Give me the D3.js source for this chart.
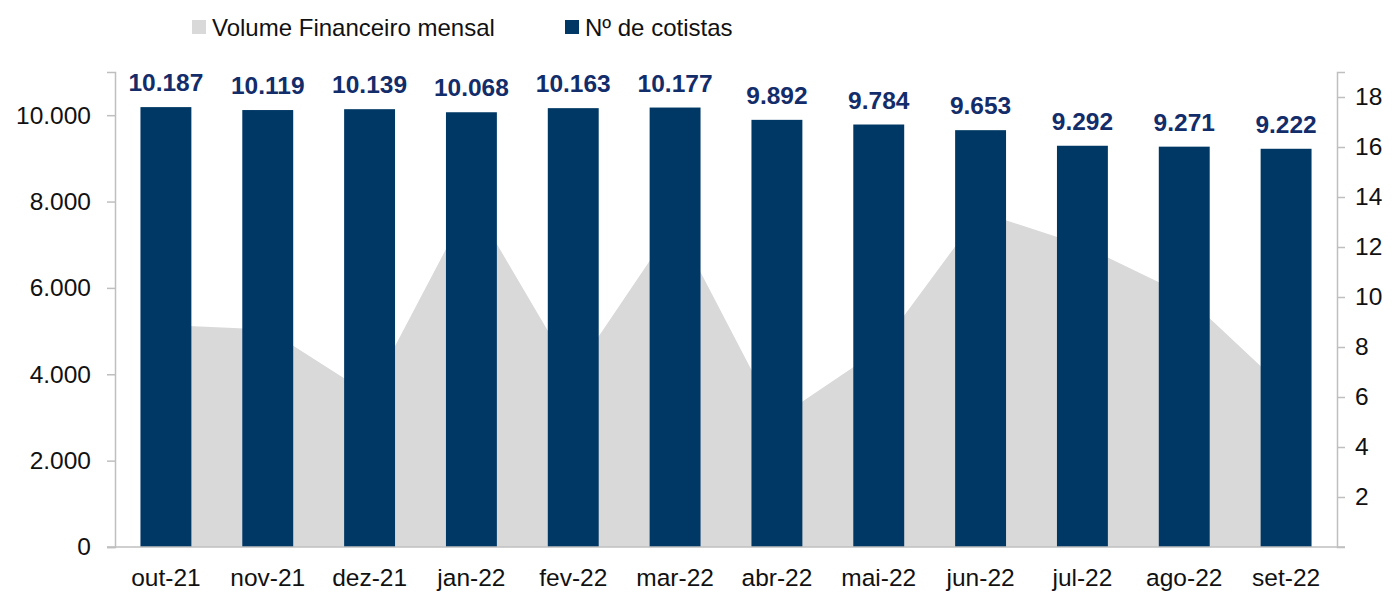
<!DOCTYPE html>
<html>
<head>
<meta charset="utf-8">
<script src="https://cdn.jsdelivr.net/npm/d3@7"></script>
<style>
  body { margin: 0; background: #fff; }
  text { font-family: "Liberation Sans", Arial, sans-serif; }
</style>
</head>
<body>
<script>
const months = ["out-21","nov-21","dez-21","jan-22","fev-22","mar-22","abr-22","mai-22","jun-22","jul-22","ago-22","set-22"];
const cotistas = [10187,10119,10139,10068,10163,10177,9892,9784,9653,9292,9271,9222];
const volume = [8.88,8.7,6.1,13.85,6.92,12.95,5.13,7.88,13.4,12.07,10.1,6.28];
const leftTicks = [0,2000,4000,6000,8000,10000];
const rightTicks = [2,4,6,8,10,12,14,16,18];

const width = 1395, height = 595;
const margin = {top: 72, right: 58, bottom: 48, left: 115};

const svg = d3.select("body").append("svg")
  .attr("width", width)
  .attr("height", height);

const br = d3.formatLocale({decimal: ",", thousands: ".", grouping: [3], currency: ["R$", ""]});
const fmt = br.format(",d");

const x = d3.scaleBand()
  .domain(months)
  .range([margin.left, width - margin.right])
  .paddingInner(0.5)
  .paddingOuter(0.25);

const yL = d3.scaleLinear().domain([0, 11000]).range([height - margin.bottom, margin.top]);
const yR = d3.scaleLinear().domain([0, 19]).range([height - margin.bottom, margin.top]);

const cx = d => x(d) + x.bandwidth() / 2;

// area behind bars
const area = d3.area()
  .x((d, i) => cx(months[i]))
  .y0(yR(0))
  .y1(d => yR(d));

svg.append("path")
  .datum(volume)
  .attr("d", area)
  .attr("fill", "#d9d9d9");

// bars
svg.selectAll("rect.bar")
  .data(cotistas)
  .enter()
  .append("rect")
  .attr("class", "bar")
  .attr("x", (d, i) => x(months[i]))
  .attr("y", d => yL(d))
  .attr("width", x.bandwidth())
  .attr("height", d => yL(0) - yL(d))
  .attr("fill", "#003865");

svg.selectAll("text.val")
  .data(cotistas)
  .enter()
  .append("text")
  .attr("class", "val")
  .attr("x", (d, i) => cx(months[i]))
  .attr("y", d => yL(d) - 16)
  .attr("text-anchor", "middle")
  .attr("font-size", 24.5)
  .attr("font-weight", "bold")
  .attr("fill", "#132c6a")
  .text(d => fmt(d));

// axes
const axisColor = "#bfbfbf";

const gL = svg.append("g")
  .attr("transform", `translate(${margin.left},0)`)
  .call(d3.axisLeft(yL).tickValues(leftTicks).tickFormat(fmt).tickSize(8).tickPadding(16));

const gR = svg.append("g")
  .attr("transform", `translate(${width - margin.right},0)`)
  .call(d3.axisRight(yR).tickValues(rightTicks).tickSize(8).tickPadding(10));

const gB = svg.append("g")
  .attr("transform", `translate(0,${yL(0)})`)
  .call(d3.axisBottom(x).tickSize(0).tickPadding(22));

[gL, gR, gB].forEach(g => {
  g.select(".domain").attr("stroke", axisColor).attr("stroke-width", 1.5);
  g.selectAll(".tick line").attr("stroke", axisColor).attr("stroke-width", 1.5);
  g.selectAll(".tick text")
    .attr("fill", "#111")
    .attr("font-size", 24.5)
    .style("font-family", "'Liberation Sans', Arial, sans-serif");
});

gB.select(".domain").attr("d", `M${margin.left - 8},0H${width - margin.right + 8}`);

// legend
const legend = [
  {label: "Volume Financeiro mensal", color: "#d9d9d9", x: 192},
  {label: "Nº de cotistas", color: "#003865", x: 565}
];

const lg = svg.selectAll("g.leg")
  .data(legend)
  .enter()
  .append("g")
  .attr("class", "leg")
  .attr("transform", d => `translate(${d.x},20)`);

lg.append("rect")
  .attr("width", 14)
  .attr("height", 14)
  .attr("fill", d => d.color);

lg.append("text")
  .attr("x", 20)
  .attr("y", 16)
  .attr("font-size", 24)
  .attr("fill", "#111")
  .text(d => d.label);
</script>
</body>
</html>
